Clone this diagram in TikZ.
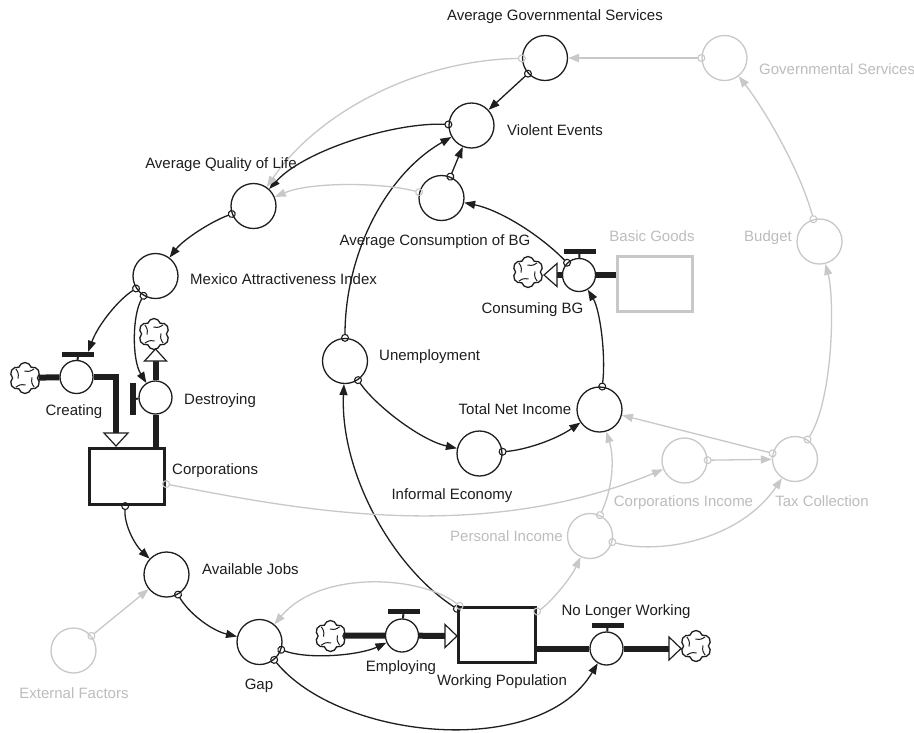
\documentclass[tikz,border=0pt]{standalone}
\usepackage{fontspec}
\setmainfont{Liberation Sans}
\usetikzlibrary{arrows.meta,shapes.symbols,calc}
\definecolor{ink}{HTML}{1E1E1E}
\definecolor{lg}{HTML}{C8C8C8}
\definecolor{lgt}{HTML}{BDBDBD}
\tikzset{
  aux/.style={circle, draw=ink, line width=1.3pt, minimum size=45pt, inner sep=0pt},
  gaux/.style={aux, draw=lg},
  valve/.style={circle, draw=ink, line width=1.3pt, minimum size=33pt, inner sep=0pt},
  stock/.style={rectangle, draw=ink, line width=3.2pt, inner sep=0pt},
  gstock/.style={stock, draw=lg},
  handle/.style={rectangle, fill=ink, inner sep=0pt, minimum width=32pt, minimum height=5pt},
  vhandle/.style={rectangle, fill=ink, inner sep=0pt, minimum width=6pt, minimum height=32pt},
  stem/.style={draw=ink, line width=2pt},
  cloudicon/.style={cloud, cloud puffs=6, cloud puff arc=150, aspect=1, draw=ink, line width=1.3pt, fill=white,
    minimum width=31pt, minimum height=31pt, inner sep=0pt,
    path picture={\foreach \ang in {45,135,225,315}{\draw[ink, line width=1pt]
      ([shift={(\ang:13pt)}]path picture bounding box.center) .. controls
      ([shift={(\ang+8:8pt)}]path picture bounding box.center) ..
      ([shift={(\ang+50:7pt)}]path picture bounding box.center);}}},
  lbl/.style={font=\fontsize{15}{17}\selectfont, text=ink, inner sep=0pt},
  glbl/.style={lbl, text=lgt},
  link/.style={draw=ink, line width=1.3pt,
    {Circle[open,length=8pt,width=8pt,line width=1.1pt]}-{Triangle[length=11pt,width=8pt]},
    shorten <=-4pt},
  glink/.style={link, draw=lg},
  pipe/.style={draw=ink, line width=6pt, line join=miter},
  flowtri/.style={draw=ink, fill=white, line width=1.2pt, line join=miter},
}
\begin{document}
\begin{tikzpicture}[x=1pt,y=-1pt]
\useasboundingbox (0,0) rectangle (914,732);
\fill[white] (0,0) rectangle (914,732);

% ---------- nodes ----------
\node[aux] (ags) at (545,58) {};
\node[gaux] (gs) at (724.5,58) {};
\node[aux] (ve) at (471.5,125.5) {};
\node[aux] (acbg) at (441.5,198) {};
\node[aux] (aql) at (253.5,206) {};
\node[aux] (mai) at (155.5,276) {};
\node[valve] (creating) at (76.5,377) {};
\node[handle] (creatingH) at (78,354.5) {};
\node[cloudicon] (cloudA) at (25,378) {};
\node[valve] (destroying) at (155.5,397.5) {};
\node[vhandle] (destroyingH) at (133,399) {};
\node[cloudicon] (cloudB) at (154,334) {};
\node[stock, minimum width=75pt, minimum height=56pt] (corp) at (127,476.5) {};
\node[aux] (aj) at (166.5,574.5) {};
\node[gaux] (ef) at (73.5,650.5) {};
\node[aux] (gap) at (259.5,642) {};
\node[valve] (employing) at (402,635.5) {};
\node[handle] (employingH) at (403.5,611.5) {};
\node[cloudicon] (cloudC) at (330.5,636) {};
\node[stock, minimum width=77pt, minimum height=55pt] (wp) at (497,635) {};
\node[valve] (nlw) at (606.5,648.5) {};
\node[handle] (nlwH) at (607.5,625.5) {};
\node[cloudicon] (cloudD) at (696,646) {};
\node[aux] (unemp) at (345,361) {};
\node[aux] (ie) at (479.5,453.5) {};
\node[aux] (tni) at (599.5,409.5) {};
\node[valve] (consbg) at (579,275) {};
\node[handle] (consbgH) at (579.5,251.5) {};
\node[cloudicon] (cloudE) at (528,272) {};
\node[gstock, minimum width=75pt, minimum height=55pt] (bg) at (655,284) {};
\node[gaux] (budget) at (819.5,241.5) {};
\node[gaux] (tc) at (795,459) {};
\node[gaux] (ci) at (684.5,460.5) {};
\node[gaux] (pi) at (590,536) {};

% ---------- valve handles ----------
\draw[stem] (creatingH) -- (creating);
\draw[stem] (destroyingH) -- (destroying);
\draw[stem] (employingH) -- (employing);
\draw[stem] (nlwH) -- (nlw);
\draw[stem] (consbgH) -- (consbg);

% ---------- flows ----------
\draw[pipe] (cloudA) -- (creating);
\coordinate (cbend) at (116,377);
\coordinate (ctri) at (116,433);
\draw[pipe] (creating) -- (cbend) -- (ctri);
\draw[flowtri] ($(ctri)+(-12,0)$) -- ($(ctri)+(12,0)$) -- ($(ctri)+(0,13)$) -- cycle;

\draw[pipe] (corp.north -| destroying) -- (destroying);
\coordinate (dtri) at (155.5,361);
\draw[pipe] (destroying) -- (dtri);
\draw[flowtri] ($(dtri)+(-11,0)$) -- ($(dtri)+(11,0)$) -- ($(dtri)+(0,-12)$) -- cycle;

\draw[pipe] (cloudC) -- (employing);
\coordinate (etri) at (445,636);
\draw[pipe] (employing) -- (etri);
\draw[flowtri] ($(etri)+(0,-11.5)$) -- ($(etri)+(0,11.5)$) -- ($(etri)+(12,0)$) -- cycle;

\draw[pipe] (wp.east |- nlw) -- (nlw);
\coordinate (ntri) at (669,648.5);
\draw[pipe] (nlw) -- (ntri);
\draw[flowtri] ($(ntri)+(0,-11.5)$) -- ($(ntri)+(0,11.5)$) -- ($(ntri)+(12,0)$) -- cycle;

\draw[pipe] (bg.west |- consbg) -- (consbg);
\coordinate (btri) at (557,275);
\draw[pipe] (consbg) -- (btri);
\draw[flowtri] ($(btri)+(0,-11.5)$) -- ($(btri)+(0,11.5)$) -- ($(btri)+(-13,0)$) -- cycle;

% ---------- black links ----------
\draw[link] (ags) -- (ve);
\draw[link] (ve) .. controls (395,122) and (305,150) .. (aql);
\draw[link] (acbg) -- (ve);
\draw[link] (unemp) .. controls (345,255) and (385,175) .. (ve);
\draw[link] (consbg) .. controls (540,235) and (500,210) .. (acbg);
\draw[link] (tni) .. controls (606,355) and (600,310) .. (consbg);
\draw[link] (unemp) .. controls (375,405) and (420,440) .. (ie);
\draw[link] (ie) .. controls (525,450) and (555,440) .. (tni);
\draw[link] (aql) .. controls (210,222) and (183,240) .. (mai);
\draw[link] (mai) .. controls (118,300) and (98,325) .. ([xshift=-6pt]creatingH.north east);
\draw[link] (mai) .. controls (132,315) and (132,360) .. (destroying);
\draw[link] (corp) .. controls (124,525) and (135,545) .. (aj);
\draw[link] (aj) .. controls (188,612) and (210,630) .. (gap);
\draw[link] (gap) .. controls (310,660) and (360,655) .. (employing);
\draw[link] (gap) .. controls (340,740) and (540,760) .. (nlw);
\draw[link] (wp) .. controls (390,565) and (340,470) .. (unemp);

% ---------- grey links ----------
\draw[glink] (ags) .. controls (420,60) and (320,110) .. (aql);
\draw[glink] (acbg) .. controls (380,182) and (310,182) .. (aql);
\draw[glink, line width=2.5pt] (gs) -- (ags);
\draw[glink] (budget) .. controls (800,170) and (765,110) .. (gs);
\draw[glink] (tc) .. controls (833,400) and (835,300) .. (budget);
\draw[glink] (tc) -- (tni);
\draw[glink] (ci) -- (tc);
\draw[glink] (corp) .. controls (300,510) and (480,545) .. (ci);
\draw[glink] (pi) .. controls (612,490) and (615,460) .. (tni);
\draw[glink] (pi) .. controls (660,555) and (740,540) .. (tc);
\draw[glink] (wp) .. controls (548,605) and (570,580) .. (pi);
\draw[glink] (wp) .. controls (420,575) and (320,570) .. (gap);
\draw[glink] (ef) -- (aj);

% ---------- labels ----------
\node[lbl] (agsL) at (555,17) {Average Governmental Services};
\node[glbl, anchor=west] (gsL) at (759,69) {Governmental Services};
\node[lbl, anchor=west] (veL) at (507,130) {Violent Events};
\node[lbl] (acbgL) at (435,242) {Average Consumption of BG};
\node[lbl] (aqlL) at (221,165) {Average Quality of Life};
\node[lbl, anchor=west] (maiL) at (190,279) {Mexico Attractiveness Index};
\node[lbl] (creatingL) at (74,412) {Creating};
\node[lbl, anchor=west] (destroyingL) at (184,401) {Destroying};
\node[lbl, anchor=west] (corpL) at (172,471) {Corporations};
\node[lbl, anchor=west] (ajL) at (202,569) {Available Jobs};
\node[glbl] (efL) at (74,693) {External Factors};
\node[lbl] (gapL) at (259,686) {Gap};
\node[lbl] (employingL) at (401,668) {Employing};
\node[lbl] (wpL) at (502,682) {Working Population};
\node[lbl] (nlwL) at (626,612) {No Longer Working};
\node[lbl, anchor=west] (unempL) at (379,357) {Unemployment};
\node[lbl] (ieL) at (452,496) {Informal Economy};
\node[lbl] (tniL) at (515,409) {Total Net Income};
\node[lbl] (consbgL) at (532.5,310) {Consuming BG};
\node[glbl] (bgL) at (652,236) {Basic Goods};
\node[glbl] (budgetL) at (768,238) {Budget};
\node[glbl] (tcL) at (822,501) {Tax Collection};
\node[glbl] (ciL) at (683.5,503) {Corporations Income};
\node[glbl] (piL) at (506.5,536) {Personal Income};
\end{tikzpicture}
\end{document}
